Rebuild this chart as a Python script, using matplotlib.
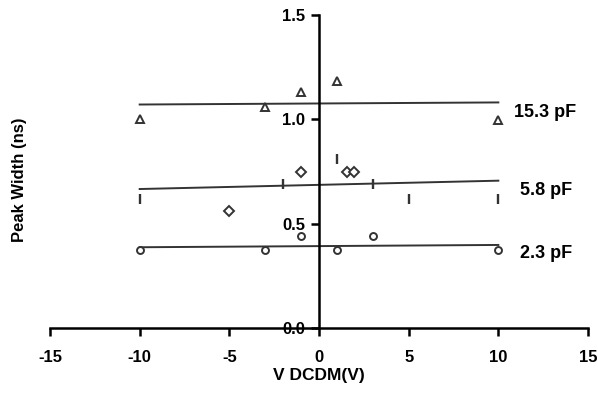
import numpy as np
import matplotlib.pyplot as plt

plt.rcParams['font.family'] = ['Liberation Sans', 'DejaVu Sans']
plt.rcParams['font.weight'] = 'bold'
plt.rcParams['axes.unicode_minus'] = False

# 15.3 pF
x_153 = [-10, -3, -1, 1, 10]
y_153 = [1.0, 1.06, 1.13, 1.185, 0.995]
fit_153 = [1.071, 1.081]

# 5.8 pF (two marker shapes in the original)
x_58_bar = [-10, -2, 1, 3, 5, 10]
y_58_bar = [0.62, 0.689, 0.81, 0.689, 0.617, 0.617]
x_58_dia = [-5, -1, 1.55, 1.97]
y_58_dia = [0.56, 0.746, 0.746, 0.746]
fit_58 = [0.666, 0.706]

# 2.3 pF
x_23 = [-10, -3, -1, 1, 3, 10]
y_23 = [0.374, 0.374, 0.442, 0.374, 0.442, 0.374]
fit_23 = [0.387, 0.398]

fit_x = [-10, 10]
labels = ['15.3 pF', '5.8 pF', '2.3 pF']
label_y = [1.035, 0.66, 0.355]
label_x = [10.9, 11.2, 11.2]

xticks = [-15, -10, -5, 0, 5, 10, 15]
yticks = [0.0, 0.5, 1.0, 1.5]

col = '#333333'

fig = plt.figure(figsize=(5.98, 4.04), dpi=100)
ax = fig.add_axes([50 / 598, 76 / 404, 538 / 598, 313 / 404])

ax.plot(fit_x, fit_153, color=col, lw=1.4)
ax.plot(fit_x, fit_58, color=col, lw=1.4)
ax.plot(fit_x, fit_23, color=col, lw=1.4)

ax.plot(x_153, y_153, ls='none', marker='^', ms=6, mfc='white', mec=col, mew=1.4)
ax.plot(x_58_bar, y_58_bar, ls='none', marker='|', ms=7, mec=col, mew=1.7)
ax.plot(x_58_dia, y_58_dia, ls='none', marker='D', ms=5.5, mfc='white', mec=col, mew=1.4)
ax.plot(x_23, y_23, ls='none', marker='o', ms=5, mfc='white', mec=col, mew=1.4)

for lab, lx, ly in zip(labels, label_x, label_y):
    ax.text(lx, ly, lab, fontsize=13, fontweight='bold', va='center', ha='left')

ax.set_xlim(-15, 15)
ax.set_ylim(0, 1.5)

ax.spines['top'].set_visible(False)
ax.spines['right'].set_visible(False)
ax.spines['left'].set_position(('data', 0))
ax.spines['left'].set_linewidth(1.8)
ax.spines['bottom'].set_linewidth(1.8)

ax.tick_params(axis='x', length=6, width=1.8, pad=10, labelsize=12)
ax.tick_params(axis='y', length=6, width=1.8, pad=4, labelsize=12)

ax.set_xticks(xticks)
ax.set_yticks(yticks)
ax.set_xticklabels([str(v) for v in xticks])
ax.set_yticklabels(['%.1f' % v for v in yticks])
for t in ax.xaxis.get_major_ticks() + ax.yaxis.get_major_ticks():
    t.label1.set_fontweight('bold')

ax.set_xlabel('V DCDM(V)', fontsize=12.5, fontweight='bold', labelpad=2)
fig.text(20 / 598, 1 - 180 / 404, 'Peak Width (ns)', rotation=90, fontsize=12,
         fontweight='bold', ha='center', va='center')

fig.savefig('out.png', dpi=100)
